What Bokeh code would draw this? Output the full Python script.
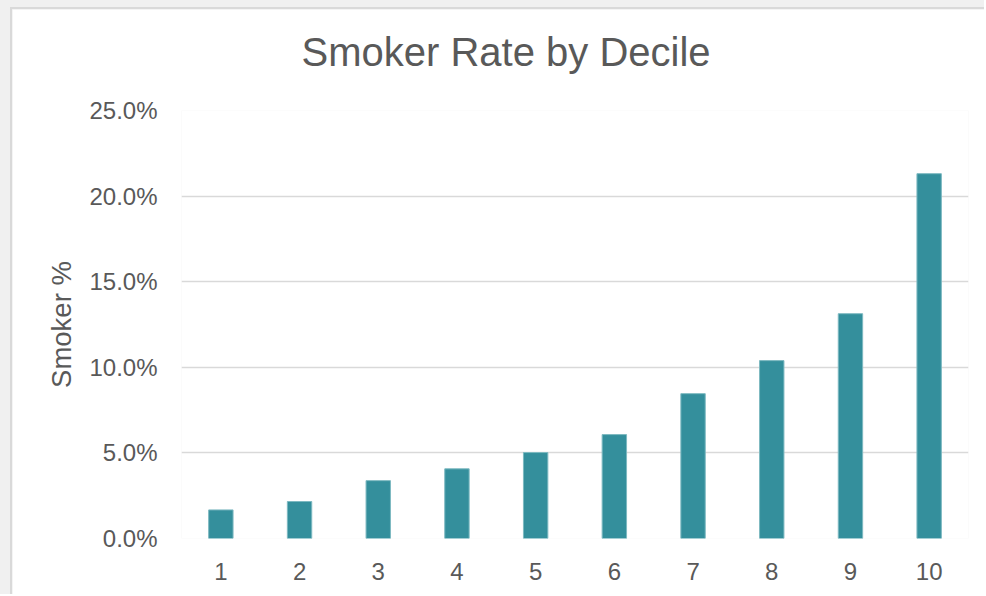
from bokeh.plotting import figure
from bokeh.models import FixedTicker, NumeralTickFormatter, Title, ColumnDataSource
from bokeh.layouts import column
from bokeh.embed import file_html
from bokeh.resources import INLINE

deciles = ["1", "2", "3", "4", "5", "6", "7", "8", "9", "10"]
smoker_rate = [0.0167, 0.0216, 0.0338, 0.0407, 0.0502, 0.0607, 0.0846, 0.1039, 0.1313, 0.2131]
y_ticks = [0.0, 0.05, 0.10, 0.15, 0.20, 0.25]

FONT = "Liberation Sans"
TXT = "#595959"
GRID = "#D9D9D9"

src = ColumnDataSource(dict(x=deciles, y=smoker_rate))

p = figure(x_range=deciles, y_range=(0, 0.25), width=974, height=587,
           output_backend="svg", toolbar_location=None,
           min_border_left=169, min_border_right=18, min_border_top=101, min_border_bottom=58)
p.title = None
p.vbar(x="x", top="y", width=0.31, source=src, fill_color="#348F9C", line_color="#7DB9C1", line_width=1)

p.outline_line_color = None
p.background_fill_color = "white"
p.border_fill_color = "white"

p.xgrid.grid_line_color = None
p.ygrid.grid_line_color = GRID
p.ygrid.grid_line_width = 1.3
p.yaxis.ticker = FixedTicker(ticks=y_ticks)
p.yaxis.formatter = NumeralTickFormatter(format="0.0%")

for ax in (p.xaxis[0], p.yaxis[0]):
    ax.axis_line_color = None
    ax.major_tick_line_color = None
    ax.minor_tick_line_color = None
    ax.major_label_text_font = FONT
    ax.major_label_text_font_size = "24px"
    ax.major_label_text_color = TXT

p.xaxis.major_label_standoff = 18
p.yaxis.major_label_standoff = 18
p.yaxis.axis_label = "Smoker %"
p.yaxis.axis_label_text_font = FONT
p.yaxis.axis_label_text_font_size = "27.5px"
p.yaxis.axis_label_text_font_style = "normal"
p.yaxis.axis_label_text_color = TXT
p.yaxis.axis_label_standoff = 9

spacer = Title(text=" ", text_font=FONT, text_font_size="27px", standoff=0, text_color="white")
p.add_layout(spacer, "above")
title = Title(text="Smoker Rate by Decile", text_font=FONT, text_font_size="40px",
              text_font_style="normal", text_color=TXT, align="left", offset=120, standoff=10)
p.add_layout(title, "above")

p.styles = {"border-left": "2px solid #D9D9D9", "border-top": "2px solid #D9D9D9"}
layout = column(p, styles={"background-color": "#F0F0F0", "padding-left": "10px", "padding-top": "7px"})

open("out.html", "w").write(file_html(layout, INLINE))
